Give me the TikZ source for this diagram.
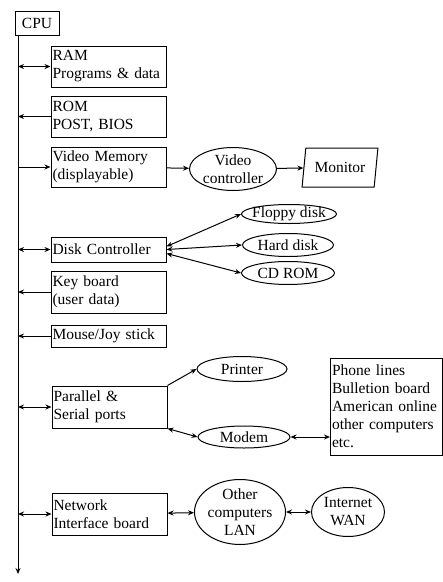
\documentclass[tikz,border=0pt]{standalone}
\usepackage{fontspec}
\setmainfont{Liberation Serif}
\usetikzlibrary{shapes.geometric, arrows.meta}

\begin{document}
\begin{tikzpicture}[
    x=1pt, y=-1pt,
    line width=1pt,
    font=\fontsize{15.5}{18}\selectfont,
    >={Stealth[length=6pt, width=5pt]},
    unit/.style={draw, rectangle, minimum width=115pt, text width=112pt, align=left, inner sep=1.5pt},
    dev/.style={draw, ellipse, inner xsep=-8pt, inner ysep=-5pt, align=center},
    screen/.style={draw, trapezium, trapezium left angle=75, trapezium right angle=105, trapezium stretches=true, inner sep=0pt}
]
\useasboundingbox (0,0) rectangle (443,582);

% CPU and bus
\node[draw, minimum width=44pt, minimum height=24pt, inner sep=1pt] (CPU) at (37,23) {CPU};
\coordinate (bus top) at (18,35);
\coordinate (bus end) at (18,574);
\draw[->] (bus top) -- (bus end);

% Units on the bus
\node[unit, minimum height=41pt] (RAM) at (108.5,66.5) {RAM\\Programs \& data};
\node[unit, minimum height=41pt] (ROM) at (108.5,116.5) {ROM\\POST, BIOS};
\node[unit, minimum height=40pt] (VM) at (108.5,167) {Video Memory\\(displayable)};
\node[unit, minimum height=25pt] (DC) at (108.5,249.5) {Disk Controller};
\node[unit, minimum height=42pt] (KB) at (108.5,292) {Key board\\(user data)};
\node[unit, minimum height=22pt] (MJ) at (108.5,336) {Mouse/Joy stick};
\node[unit, minimum height=42pt] (PS) at (109.5,407) {Parallel \&\\Serial ports};
\node[unit, minimum height=42pt] (NIB) at (109.5,514) {Network\\Interface board};

% Devices
\node[dev, minimum width=87pt, minimum height=43pt] (VC) at (233,169) {Video\\controller};
\node[screen, minimum width=76pt, minimum height=39pt] (MON) at (340,167.5) {Monitor};
\node[dev, minimum width=95pt, minimum height=19pt] (FD) at (289,214) {Floppy disk};
\node[dev, minimum width=91pt, minimum height=23pt] (HD) at (288,245) {Hard disk};
\node[dev, minimum width=93pt, minimum height=23pt] (CD) at (288,273) {CD ROM};
\node[dev, minimum width=90pt, minimum height=25pt] (PR) at (242,369) {Printer};
\node[dev, minimum width=92pt, minimum height=22pt] (MD) at (244,437) {Modem};
\node[unit, minimum width=111pt, text width=109pt, minimum height=97pt] (PH) at (386.5,406.5)
    {Phone lines\\Bulletion board\\American online\\other computers\\etc.};
\node[dev, minimum width=91pt, minimum height=65pt] (LAN) at (240,512) {Other\\computers\\LAN};
\node[dev, minimum width=73pt, minimum height=49pt] (WAN) at (348,512) {Internet\\WAN};

% Bus links
\draw[<->] (RAM.west -| bus top) -- (RAM.west);
\draw[->] (ROM.west) -- (ROM.west -| bus top);
\draw[->] (VM.west -| bus top) -- (VM.west);
\draw[<->] (DC.west -| bus top) -- (DC.west);
\draw[->] (KB.west) -- (KB.west -| bus top);
\draw[->] (MJ.west) -- (MJ.west -| bus top);
\draw[<->] (PS.west -| bus top) -- (PS.west);
\draw[<->] (NIB.west -| bus top) -- (NIB.west);

% Device links
\draw[->] (VM) -- (VC);
\draw[->] (VC) -- (MON);
\draw[<->] ([yshift=3pt]DC.east) -- (FD.west);
\draw[<->] (DC.east) -- (HD.west);
\draw[<->] ([yshift=-4pt]DC.east) -- (CD.west);
\draw[->] (PS.north east) -- (PR.west);
\draw[<->] (PS.south east) -- (MD.west);
\draw[<->] (MD.east) -- (MD.east -| PH.west);
\draw[<->] (NIB) -- (LAN);
\draw[<->] (LAN) -- (WAN);

\end{tikzpicture}
\end{document}
